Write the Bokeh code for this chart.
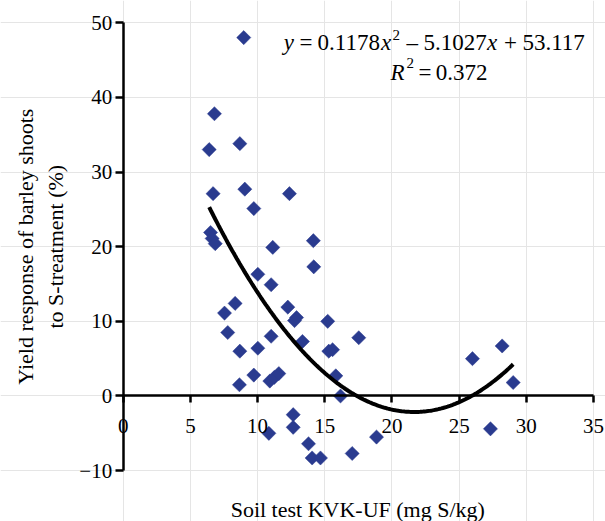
import numpy as np
from bokeh.plotting import figure
from bokeh.models import LinearAxis, SingleIntervalTicker, Label, ColumnDataSource
from bokeh.embed import file_html
from bokeh.resources import INLINE

# ---- data ----
soil_s = [8.97, 6.79, 6.40, 8.68, 6.69, 9.05, 12.37, 9.72, 6.50, 6.62, 6.85,
          14.15, 11.13, 14.18, 10.02, 11.01, 8.33, 7.54, 12.25, 12.90, 12.75,
          15.22, 7.78, 11.01, 13.34, 17.53, 8.68, 10.02, 15.30, 15.58, 15.82,
          9.72, 8.65, 10.91, 11.25, 11.58, 16.17, 12.65, 12.65, 10.84, 13.79,
          14.06, 14.68, 17.04, 18.85, 25.99, 28.20, 29.02, 27.33]
yield_resp = [48.0, 37.8, 33.0, 33.8, 27.1, 27.7, 27.1, 25.1, 21.9, 21.1, 20.4,
              20.8, 19.9, 17.3, 16.3, 14.9, 12.4, 11.1, 11.9, 10.5, 10.1,
              10.0, 8.5, 8.0, 7.3, 7.8, 6.0, 6.4, 6.0, 6.2, 2.7,
              2.8, 1.5, 2.0, 2.5, 3.0, 0.0, -2.5, -4.2, -5.0, -6.4,
              -8.3, -8.3, -7.7, -5.5, 5.0, 6.7, 1.8, -4.4]

# trendline coefficients shown on the chart
coef_a, coef_b, coef_c = 0.1178, -5.1027, 53.117

x_axis_bounds = (0, 35)
y_axis_bounds = (-10, 50)
x_ticks_interval = 5
y_ticks_interval = 10

x_title = "Soil test KVK-UF  (mg S/kg)"
y_title_1 = "Yield response of barley shoots"
y_title_2 = "to S-treatment (%)"

FONT = "Liberation Serif"

p = figure(width=605, height=521, x_range=(-9.13, 35.89), y_range=(-16.81, 52.97),
           output_backend="svg", toolbar_location=None,
           x_axis_location=None, y_axis_location=None,
           min_border=0, min_border_left=0, min_border_right=0,
           min_border_top=0, min_border_bottom=0)
p.outline_line_color = None
p.background_fill_color = "white"
p.border_fill_color = "white"

def style_axis(ax, tick_out, standoff):
    ax.minor_tick_line_color = None
    ax.axis_line_width = 2.5
    ax.axis_line_color = "black"
    ax.major_tick_line_width = 2.5
    ax.major_tick_line_color = "black"
    ax.major_tick_in = 0
    ax.major_tick_out = tick_out
    ax.major_label_standoff = standoff
    ax.major_label_text_font = FONT
    ax.major_label_text_font_size = "21px"
    ax.major_label_text_color = "black"

# y axis at x = 0
ya = LinearAxis(fixed_location=0, bounds=y_axis_bounds,
                ticker=SingleIntervalTicker(interval=y_ticks_interval))
style_axis(ya, 8, 3)
p.add_layout(ya, "left")

# x axis crossing at y = 0
xa = LinearAxis(fixed_location=0, bounds=x_axis_bounds,
                ticker=SingleIntervalTicker(interval=x_ticks_interval))
style_axis(xa, 7, 16)
p.add_layout(xa, "below")

# points
src = ColumnDataSource(dict(x=soil_s, y=yield_resp))
p.scatter("x", "y", source=src, marker="square", size=10, angle=np.pi / 4,
          fill_color="#2A3B8F", line_color="#2A3B8F", line_width=0.5)

# trendline over the data range
xs = np.linspace(min(soil_s), max(soil_s), 200)
ys = coef_a * xs ** 2 + coef_b * xs + coef_c
p.line(xs, ys, line_color="black", line_width=4)

def lab(x, y, t, size="23px", style="normal", align="left", baseline="alphabetic", angle=0.0):
    p.add_layout(Label(x=x, y=y, text=t, text_font=FONT, text_font_size=size,
                       text_font_style=style, text_color="black", angle=angle,
                       text_baseline=baseline, text_align=align))

# axis titles
lab(17.66, -15.2, x_title, size="22px", align="center")
lab(-7.27, 20.0, y_title_1, size="22px", align="center", baseline="middle", angle=np.pi / 2)
lab(-5.06, 20.0, y_title_2, size="22px", align="center", baseline="middle", angle=np.pi / 2)

# equation text
base1 = 47.3
base2 = 43.3
lab(11.95, base1, "y", style="italic")
lab(13.12, base1, "=")
lab(14.46, base1, "0.1178")
lab(19.18, base1, "x", style="italic")
lab(20.04, base1 + 1.1, "2", size="15px")
lab(21.08, base1, "\u2013")
lab(22.34, base1, "5.1027")
lab(27.07, base1, "x", style="italic")
lab(28.33, base1, "+")
lab(29.71, base1, "53.117")

lab(19.89, base2, "R", style="italic")
lab(21.08, base2 + 1.3, "2", size="15px")
lab(21.97, base2, "=")
lab(23.25, base2, "0.372")

open("out.html", "w").write(file_html(p, INLINE))
